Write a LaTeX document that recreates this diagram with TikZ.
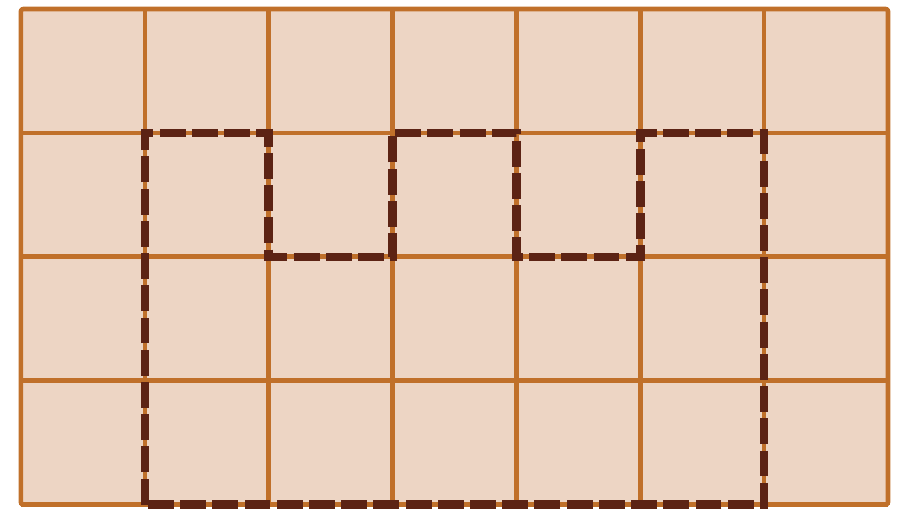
\documentclass[tikz,border=0pt]{standalone}
\usepackage{tikz}
\definecolor{cellfill}{HTML}{EDD5C4}
\definecolor{gridedge}{HTML}{C0702A}
\definecolor{regionedge}{HTML}{5C2314}

\begin{document}
\begin{tikzpicture}[x=2cm,y=2cm,
  gridline/.style={gridedge,line width=2.1pt,line join=round},
  regionline/.style={regionedge,line width=3.9pt,dash pattern=on 11.9pt off 2.9pt}]
\path[use as bounding box] (-0.169,-0.169) rectangle (7.113,4.073);
\fill[cellfill] (0,0) rectangle (7,4);
\draw[gridline,step=1] (0,0) grid (7,4);
\draw[gridline,rounded corners=1pt] (0,0) rectangle (7,4);
% dashed region
\draw[regionline] (1,0) -- (1,3) -- (2,3) -- (2,2) -- (3,2) -- (3,3)
  -- (4,3) -- (4,2) -- (5,2) -- (5,3) -- (6,3) -- (6,0) -- cycle;
\end{tikzpicture}
\end{document}
